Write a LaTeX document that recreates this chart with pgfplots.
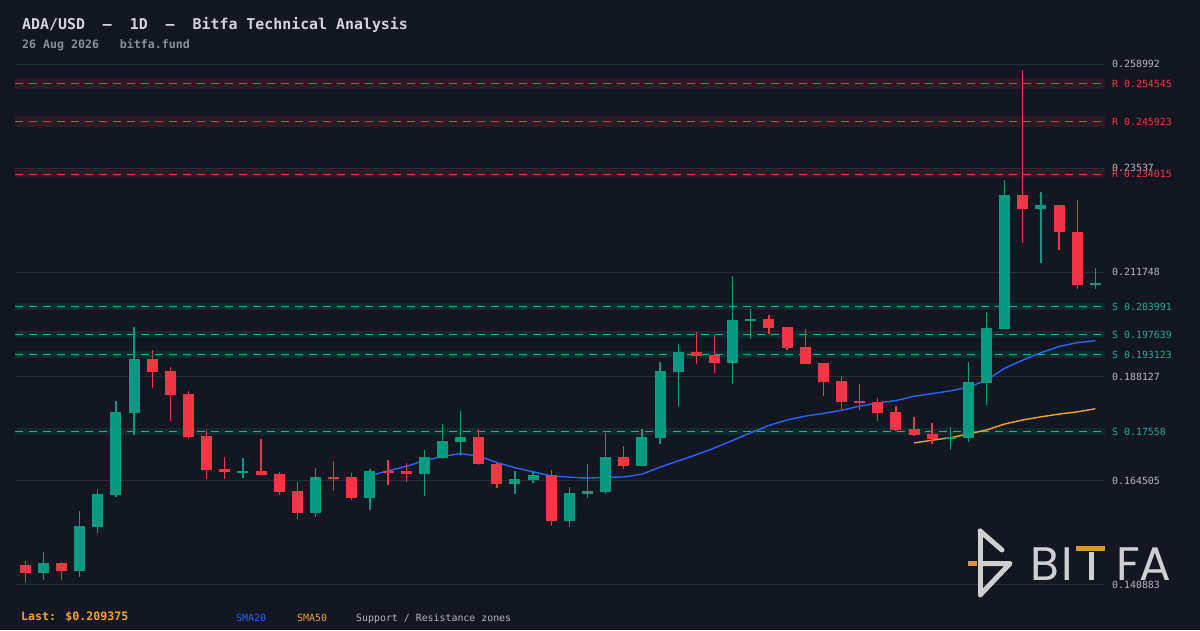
\documentclass[border=0pt]{standalone}
\usepackage{pgfplots}
\pgfplotsset{compat=1.18}
\usepackage{pgfplotstable}
\usepackage{fontspec}
\setmainfont{DejaVu Sans Mono}
\newfontfamily\logofont{Poppins}
\definecolor{bgcol}{HTML}{131722}
\definecolor{gridcol}{HTML}{2A2E39}
\definecolor{upcol}{HTML}{089981}
\definecolor{downcol}{HTML}{F23645}
\definecolor{smablue}{HTML}{2962FF}
\definecolor{smaorange}{HTML}{F0A030}
\definecolor{rband}{HTML}{2C1A25}
\definecolor{sband}{HTML}{0F2A2C}
\definecolor{rline}{HTML}{F23645}
\definecolor{sline}{HTML}{22AB94}
\definecolor{ticktext}{HTML}{B2B5BE}
\definecolor{titlecol}{HTML}{D1D4DC}
\definecolor{subcol}{HTML}{8A8E99}
\definecolor{lastcol}{HTML}{F7A21B}
\definecolor{wmcol}{HTML}{CFCFD2}
\definecolor{wmorange}{HTML}{D99430}

\pgfplotstableread{
i o h l c
1 0.14361 0.14831 0.14203 0.14581
3 0.14407 0.15761 0.14271 0.15421
4 0.15405 0.16260 0.15269 0.16146
5 0.16131 0.18256 0.16085 0.18006
6 0.17990 0.19934 0.17491 0.19208
12 0.16630 0.16963 0.16516 0.16668
16 0.15722 0.16736 0.15632 0.16532
19 0.16062 0.16713 0.15790 0.16668
22 0.16607 0.17144 0.16108 0.16986
23 0.16970 0.17734 0.16940 0.17349
24 0.17333 0.18029 0.17031 0.17439
27 0.16380 0.16668 0.16153 0.16487
28 0.16471 0.16645 0.16403 0.16577
30 0.15541 0.16305 0.15405 0.16169
31 0.16153 0.16827 0.16062 0.16214
32 0.16199 0.17530 0.16153 0.16986
34 0.16788 0.17621 0.16788 0.17439
35 0.17423 0.19140 0.17287 0.18936
36 0.18920 0.19549 0.18149 0.19367
39 0.19124 0.21091 0.18648 0.20093
40 0.20077 0.20342 0.19669 0.20116
51 0.17401 0.17666 0.17151 0.17446
52 0.17423 0.19140 0.17333 0.18687
53 0.18671 0.20274 0.18172 0.19911
54 0.19889 0.23268 0.19880 0.22928
56 0.22611 0.22996 0.21393 0.22708
59 0.20894 0.21272 0.20803 0.209375
}\upcandles

\pgfplotstableread{
i o h l c
0 0.14536 0.14627 0.14157 0.14361
2 0.14581 0.14604 0.14203 0.14407
7 0.19208 0.19412 0.18557 0.18920
8 0.18936 0.19027 0.17809 0.18399
9 0.18415 0.18483 0.17401 0.17446
10 0.17462 0.17598 0.16494 0.16698
11 0.16713 0.16986 0.16494 0.16652
13 0.16668 0.17394 0.16580 0.16584
14 0.16600 0.16645 0.16131 0.16199
15 0.16214 0.16419 0.15586 0.15722
17 0.16532 0.16895 0.16221 0.16487
18 0.16532 0.16623 0.16017 0.16062
20 0.16668 0.16918 0.16357 0.16630
21 0.16668 0.16850 0.16425 0.16607
25 0.17439 0.17621 0.16804 0.16834
26 0.16834 0.16840 0.16289 0.16380
29 0.16577 0.16691 0.15427 0.15541
33 0.16986 0.17235 0.16720 0.16788
37 0.19367 0.19821 0.19102 0.19283
38 0.19299 0.19753 0.18898 0.19124
41 0.20116 0.20206 0.19782 0.19918
42 0.19934 0.19940 0.19419 0.19465
43 0.19481 0.19889 0.19100 0.19102
44 0.19118 0.19120 0.18376 0.18694
45 0.18709 0.18823 0.18081 0.18240
46 0.18256 0.18641 0.18058 0.18217
47 0.18233 0.18324 0.17809 0.17990
48 0.18006 0.18142 0.17582 0.17605
49 0.17621 0.17893 0.17469 0.17491
50 0.17507 0.17757 0.17287 0.17401
55 0.22928 0.25763 0.21846 0.22611
57 0.22701 0.22705 0.21687 0.22096
58 0.22096 0.22815 0.20789 0.20894
}\downcandles

\pgfplotstableread{
i v
19 0.165584
20 0.166718
21 0.167731
22 0.169021
23 0.169985
24 0.170631
25 0.170045
26 0.168631
27 0.167415
28 0.166504
29 0.165551
30 0.165287
31 0.165068
32 0.165227
33 0.165329
34 0.165949
35 0.167556
36 0.168973
37 0.170371
38 0.171902
39 0.173615
40 0.175358
41 0.177013
42 0.178253
43 0.179129
44 0.179757
45 0.180460
46 0.181378
47 0.182130
48 0.182644
49 0.183619
50 0.184235
51 0.184851
52 0.185701
53 0.187263
54 0.190007
55 0.191845
56 0.193515
57 0.194922
58 0.195807
59 0.196229
}\smatwenty

\pgfplotstableread{
i v
49 0.173047
50 0.173655
51 0.174228
52 0.175084
53 0.175982
54 0.177338
55 0.178259
56 0.178959
57 0.179594
58 0.180093
59 0.180792
}\smafifty

\pgfplotsset{
  candle/.style n args={2}{draw=none, mark=none,
    error bars/.cd, y dir=both, y explicit, error mark=none,
    error bar style={draw=#1, line width=#2}},
}

\begin{document}
\begin{tikzpicture}[x=1pt,y=1pt]
\useasboundingbox (0,0) rectangle (1200,630);
\fill[bgcol] (0,0) rectangle (1200,630);
\begin{axis}[
  at={(15pt,38pt)}, anchor=south west,
  scale only axis, width=1090pt, height=534pt,
  xmin=-0.568, xmax=59.533, ymin=0.139236, ymax=0.260353,
  axis line style={draw=none}, tick style={draw=none},
  xtick=\empty, scaled y ticks=false,
  ytick={0.140883,0.164505,0.188127,0.211748,0.23537,0.258992},
  yticklabels={0.140883,0.164505,0.188127,0.211748,0.23537,0.258992},
  yticklabel pos=right,
  ymajorgrids, grid style={draw=gridcol, line width=0.9pt},
  yticklabel style={font=\fontsize{9.9}{11}\selectfont, text=ticktext, anchor=west, inner sep=0pt, xshift=7pt},
  extra y ticks={0.254545,0.245923,0.234015,0.203991,0.197639,0.193123,0.17558},
  extra y tick labels={\textcolor{rline}{R 0.254545},\textcolor{rline}{R 0.245923},\textcolor{rline}{R 0.234015},\textcolor{sline}{S 0.203991},\textcolor{sline}{S 0.197639},\textcolor{sline}{S 0.193123},\textcolor{sline}{S 0.17558}},
  extra y tick style={grid=none},
]
% zones
\addplot[rband, line width=10.3pt, forget plot] coordinates {(-0.568,0.254545) (59.533,0.254545)};
\addplot[rband, line width=11pt, forget plot] coordinates {(-0.568,0.245923) (59.533,0.245923)};
\addplot[rband, line width=8pt, forget plot] coordinates {(-0.568,0.234015) (59.533,0.234015)};
\addplot[sband, line width=7.3pt, forget plot] coordinates {(-0.568,0.203991) (59.533,0.203991)};
\addplot[sband, line width=6.8pt, forget plot] coordinates {(-0.568,0.197639) (59.533,0.197639)};
\addplot[sband, line width=6.8pt, forget plot] coordinates {(-0.568,0.193123) (59.533,0.193123)};
\addplot[sband, line width=7.3pt, forget plot] coordinates {(-0.568,0.17558) (59.533,0.17558)};
\addplot[rline, line width=1.2pt, dash pattern=on 8pt off 6pt] coordinates {(-0.568,0.254545) (59.533,0.254545)};
\addplot[rline, line width=1.2pt, dash pattern=on 8pt off 6pt] coordinates {(-0.568,0.245923) (59.533,0.245923)};
\addplot[rline, line width=1.2pt, dash pattern=on 8pt off 6pt] coordinates {(-0.568,0.234015) (59.533,0.234015)};
\addplot[sline, line width=1.2pt, dash pattern=on 8pt off 6pt] coordinates {(-0.568,0.203991) (59.533,0.203991)};
\addplot[sline, line width=1.2pt, dash pattern=on 8pt off 6pt] coordinates {(-0.568,0.197639) (59.533,0.197639)};
\addplot[sline, line width=1.2pt, dash pattern=on 8pt off 6pt] coordinates {(-0.568,0.193123) (59.533,0.193123)};
\addplot[sline, line width=1.2pt, dash pattern=on 8pt off 6pt] coordinates {(-0.568,0.17558) (59.533,0.17558)};
% moving averages
\addplot[smablue, line width=1.4pt, mark=none] table[x=i, y=v] {\smatwenty};
\addplot[smaorange, line width=1.4pt, mark=none] table[x=i, y=v] {\smafifty};
% wicks
\addplot[candle={upcol}{1.3pt}]
  table[x=i, y expr={(\thisrow{h}+\thisrow{l})/2}, y error expr={(\thisrow{h}-\thisrow{l})/2}] {\upcandles};
\addplot[candle={downcol}{1.3pt}]
  table[x=i, y expr={(\thisrow{h}+\thisrow{l})/2}, y error expr={(\thisrow{h}-\thisrow{l})/2}] {\downcandles};
% bodies
\addplot[candle={upcol}{11pt}]
  table[x=i, y expr={(\thisrow{o}+\thisrow{c})/2}, y error expr={abs(\thisrow{c}-\thisrow{o})/2}] {\upcandles};
\addplot[candle={downcol}{11pt}]
  table[x=i, y expr={(\thisrow{o}+\thisrow{c})/2}, y error expr={abs(\thisrow{c}-\thisrow{o})/2}] {\downcandles};
\end{axis}
\begin{scope}[shift={(0pt,630pt)}, y=-1pt]
\node[anchor=base west, inner sep=0pt, text=titlecol, font=\bfseries\fontsize{14.9}{16}\selectfont] at (22,29.3) {ADA/USD~~–~~1D~~–~~Bitfa Technical Analysis};
\node[anchor=base west, inner sep=0pt, text=subcol, font=\bfseries\fontsize{11.6}{13}\selectfont] at (22,48.3) {26 Aug 2026~~~bitfa.fund};
\node[anchor=base west, inner sep=0pt, text=lastcol, font=\bfseries\fontsize{11.6}{13}\selectfont] at (21,620.5) {Last: \$0.209375};
\node[anchor=base west, inner sep=0pt, text=smablue, font=\fontsize{9.9}{11}\selectfont] at (236,621) {SMA20};
\node[anchor=base west, inner sep=0pt, text=smaorange, font=\fontsize{9.9}{11}\selectfont] at (297,621) {SMA50};
\node[anchor=base west, inner sep=0pt, text=ticktext, font=\fontsize{9.9}{11}\selectfont] at (356,621) {Support / Resistance zones};
% watermark logo
\draw[wmorange, line width=4.5pt] (968,563.5) -- (977,563.5);
\draw[wmcol, line width=5pt, line cap=round, line join=round] (980,531) -- (980,595);
\draw[wmcol, line width=5pt, line cap=round, line join=round] (980,531) -- (1002,550);
\draw[wmcol, line width=5pt, line cap=round, line join=round] (982,563.5) -- (1010,563.5) -- (981,594);
\node[anchor=base, inner sep=0pt, text=wmcol, font=\logofont\fontsize{47}{50}\selectfont] at (1044.5,580) {B};
\node[anchor=base, inner sep=0pt, text=wmcol, font=\logofont\fontsize{47}{50}\selectfont] at (1067.5,580) {I};
\fill[wmorange] (1076,545.5) rectangle (1105,550.5);
\fill[wmcol] (1088.5,551.5) rectangle (1093.5,580);
\node[anchor=base, inner sep=0pt, text=wmcol, font=\logofont\fontsize{47}{50}\selectfont] at (1128.5,580) {F};
\node[anchor=base, inner sep=0pt, text=wmcol, font=\logofont\fontsize{47}{50}\selectfont] at (1155,580) {A};
\end{scope}
\end{tikzpicture}
\end{document}
